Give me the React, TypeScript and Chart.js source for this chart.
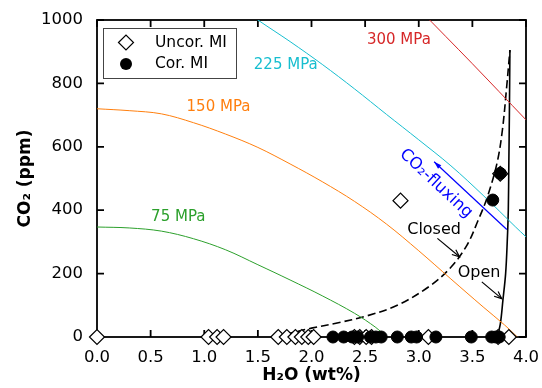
import React, { useEffect, useRef } from "react";
import { Chart, registerables } from "chart.js";

Chart.register(...registerables);

type P = [number, number];

// ---- axis ticks ----
const X_TICKS = [0, 0.5, 1, 1.5, 2, 2.5, 3, 3.5, 4];
const Y_TICKS = [0, 200, 400, 600, 800, 1000];

// ---- isobars (H2O wt%, CO2 ppm) ----
const isobar75: P[] = [[0, 347], [0.3, 344], [0.6, 334], [0.9, 310], [1.2, 275], [1.5, 228], [1.8, 180], [2.1, 130], [2.4, 75], [2.6, 30], [2.7, 0]];
const isobar150: P[] = [[0, 720], [0.3, 714], [0.6, 704], [0.9, 676], [1.2, 640], [1.5, 598], [1.8, 546], [2.1, 490], [2.4, 428], [2.7, 356], [3.0, 272], [3.3, 183], [3.6, 95], [3.8, 38], [3.92, 0]];
const isobar225: P[] = [[1.4, 1025], [1.5, 1000], [1.8, 932], [2.1, 860], [2.4, 783], [2.7, 702], [3.0, 622], [3.3, 540], [3.6, 447], [3.9, 348], [4.0, 316]];
const isobar300: P[] = [[3.0, 1035], [3.5, 862], [4.0, 685]];

// ---- degassing paths ----
const closedPath: P[] = [[1.65, 2], [1.8, 12], [2.0, 28], [2.25, 45], [2.5, 65], [2.8, 100], [3.1, 160], [3.3, 220], [3.45, 290], [3.55, 365], [3.64, 442], [3.73, 549], [3.78, 653], [3.82, 790], [3.85, 905]];
const openPath: P[] = [[3.73, 0], [3.76, 40], [3.785, 117], [3.81, 200], [3.825, 300], [3.835, 400], [3.84, 550], [3.845, 700], [3.85, 905]];

// ---- melt inclusions ----
const uncorH2O = [0.0, 1.04, 1.12, 1.18, 1.69, 1.77, 1.85, 1.91, 1.97, 2.02, 2.40, 2.45, 2.51, 2.56, 3.09, 3.74, 3.84, 2.83, 3.76];
const uncorCO2 = [0, 0, 0, 0, 0, 0, 0, 0, 0, 0, 0, 0, 0, 0, 0, 0, 0, 430, 515];
const corH2O = [2.20, 2.30, 2.38, 2.43, 2.55, 2.60, 2.65, 2.80, 2.93, 2.98, 3.16, 3.49, 3.68, 3.72, 3.75, 3.69, 3.76];
const corCO2 = [0, 0, 0, 0, 0, 0, 0, 0, 0, 0, 0, 0, 0, 0, 0, 432, 516];

// ---- labels ----
const isobarNames = ["75 MPa", "150 MPa", "225 MPa", "300 MPa"];
const isobarLabelX = [0.758, 1.133, 1.76, 2.815];
const isobarLabelY = [379, 726, 858, 937];
const legendNames = ["Uncor. MI", "Cor. MI"];

const GREEN = "#2ca02c";
const ORANGE = "#ff7f0e";
const CYAN = "#17becf";
const RED = "#d62728";
const BLUE = "#0000ff";
const isobarColors = [GREEN, ORANGE, CYAN, RED];

const FONT = "'DejaVu Sans', sans-serif";

const toXY = (arr: P[]) => arr.map(([x, y]) => ({ x, y }));
const zipXY = (xs: number[], ys: number[]) => xs.map((x, i) => ({ x, y: ys[i] }));

function arrow(ctx: CanvasRenderingContext2D, x1: number, y1: number, x2: number, y2: number, color: string, filled: boolean) {
  ctx.save();
  ctx.strokeStyle = color;
  ctx.fillStyle = color;
  ctx.lineWidth = 1.2;
  ctx.beginPath();
  ctx.moveTo(x1, y1);
  ctx.lineTo(x2, y2);
  ctx.stroke();
  const ang = Math.atan2(y2 - y1, x2 - x1);
  const len = 8;
  const spread = filled ? 0.3 : 0.4;
  const ax = x2 - len * Math.cos(ang - spread);
  const ay = y2 - len * Math.sin(ang - spread);
  const bx = x2 - len * Math.cos(ang + spread);
  const by = y2 - len * Math.sin(ang + spread);
  ctx.beginPath();
  if (filled) {
    ctx.moveTo(x2, y2);
    ctx.lineTo(ax, ay);
    ctx.lineTo(bx, by);
    ctx.closePath();
    ctx.fill();
  } else {
    ctx.moveTo(ax, ay);
    ctx.lineTo(x2, y2);
    ctx.lineTo(bx, by);
    ctx.stroke();
  }
  ctx.restore();
}

const framePlugin = {
  id: "frame",
  beforeDatasetsDraw(chart: any) {
    const { ctx, chartArea: a, scales } = chart;
    ctx.save();
    ctx.strokeStyle = "#000";
    ctx.lineWidth = 1.8;
    ctx.strokeRect(a.left, a.top, a.right - a.left, a.bottom - a.top);
    const L = 7;
    ctx.beginPath();
    for (const v of X_TICKS) {
      const px = scales.x.getPixelForValue(v);
      ctx.moveTo(px, a.bottom);
      ctx.lineTo(px, a.bottom - L);
      ctx.moveTo(px, a.top);
      ctx.lineTo(px, a.top + L);
    }
    for (const v of Y_TICKS) {
      const py = scales.y.getPixelForValue(v);
      ctx.moveTo(a.left, py);
      ctx.lineTo(a.left + L, py);
      ctx.moveTo(a.right, py);
      ctx.lineTo(a.right - L, py);
    }
    ctx.stroke();
    ctx.restore();
  },
};

const annotationPlugin = {
  id: "annotations",
  afterDatasetsDraw(chart: any) {
    const { ctx, scales } = chart;
    const X = (v: number) => scales.x.getPixelForValue(v);
    const Y = (v: number) => scales.y.getPixelForValue(v);
    ctx.save();
    ctx.textAlign = "center";
    ctx.textBaseline = "middle";
    ctx.font = `15px ${FONT}`;
    isobarNames.forEach((t, i) => {
      ctx.fillStyle = isobarColors[i];
      ctx.fillText(t, X(isobarLabelX[i]), Y(isobarLabelY[i]));
    });
    ctx.font = `16px ${FONT}`;
    ctx.fillStyle = "#000";
    ctx.fillText("Closed", X(3.143), Y(337));
    ctx.fillText("Open", X(3.563), Y(201));
    arrow(ctx, X(3.174), Y(311), X(3.38), Y(253), "#000", false);
    arrow(ctx, X(3.588), Y(174), X(3.774), Y(121), "#000", false);
    arrow(ctx, X(3.821), Y(339), X(3.143), Y(553), BLUE, true);
    ctx.save();
    ctx.translate(X(3.16), Y(484));
    ctx.rotate((43 * Math.PI) / 180);
    ctx.fillStyle = BLUE;
    ctx.font = `16.5px ${FONT}`;
    ctx.fillText("CO₂-fluxing", 0, 0);
    ctx.restore();
    ctx.restore();
  },
};

const legendPlugin = {
  id: "boxLegend",
  afterDraw(chart: any) {
    const { ctx, chartArea: a } = chart;
    const left = a.left + 6;
    const top = a.top + 8;
    const w = 133;
    const h = 50;
    ctx.save();
    ctx.fillStyle = "#fff";
    ctx.strokeStyle = "#444";
    ctx.lineWidth = 1;
    ctx.fillRect(left, top, w, h);
    ctx.strokeRect(left + 0.5, top + 0.5, w, h);
    const rows = [top + 14.5, top + 36];
    const mx = left + 23;
    ctx.beginPath();
    const r = 7.5;
    ctx.moveTo(mx - r, rows[0]);
    ctx.lineTo(mx, rows[0] - r);
    ctx.lineTo(mx + r, rows[0]);
    ctx.lineTo(mx, rows[0] + r);
    ctx.closePath();
    ctx.fillStyle = "#fff";
    ctx.fill();
    ctx.strokeStyle = "#000";
    ctx.lineWidth = 1.2;
    ctx.stroke();
    ctx.beginPath();
    ctx.arc(mx, rows[1], 6, 0, Math.PI * 2);
    ctx.fillStyle = "#000";
    ctx.fill();
    ctx.font = `15.5px ${FONT}`;
    ctx.textAlign = "left";
    ctx.textBaseline = "middle";
    ctx.fillStyle = "#000";
    ctx.fillText(legendNames[0], left + 52, rows[0]);
    ctx.fillText(legendNames[1], left + 52, rows[1]);
    ctx.restore();
  },
};

export default function App() {
  const ref = useRef<HTMLCanvasElement>(null);
  useEffect(() => {
    const canvas = ref.current;
    if (!canvas) return;
    const lineDs = (label: string, data: P[], color: string, width: number, dash: number[] = []) => ({
      label,
      data: toXY(data),
      showLine: true,
      borderColor: color,
      backgroundColor: color,
      borderWidth: width,
      borderDash: dash,
      pointRadius: 0,
      tension: 0.35,
      order: 3,
    });
    const chart = new Chart(canvas, {
      type: "scatter",
      data: {
        datasets: [
          {
            label: legendNames[1],
            data: zipXY(corH2O, corCO2),
            pointStyle: "circle",
            pointRadius: 6,
            backgroundColor: "#000",
            borderColor: "#000",
            borderWidth: 1,
            clip: false,
            order: 0,
          },
          {
            label: legendNames[0],
            data: zipXY(uncorH2O, uncorCO2),
            pointStyle: "rectRot",
            pointRadius: 7.5,
            backgroundColor: "#fff",
            borderColor: "#000",
            borderWidth: 1.2,
            clip: false,
            order: 1,
          },
          lineDs("75 MPa", isobar75, GREEN, 1),
          lineDs("150 MPa", isobar150, ORANGE, 1),
          lineDs("225 MPa", isobar225, CYAN, 1),
          lineDs("300 MPa", isobar300, RED, 1),
          lineDs("Closed", closedPath, "#000", 1.6, [8, 4]),
          lineDs("Open", openPath, "#000", 1.6),
        ] as any,
      },
      options: {
        responsive: false,
        animation: false,
        events: [],
        layout: { padding: { top: 20, right: 16, left: 0, bottom: 0 } },
        elements: { line: { capBezierPoints: false } },
        plugins: { legend: { display: false }, tooltip: { enabled: false } },
        scales: {
          x: {
            type: "linear",
            min: 0,
            max: 4,
            afterFit: (s: any) => {
              s.height = 51;
              s.paddingLeft = 0;
              s.paddingRight = 0;
            },
            afterBuildTicks: (s: any) => {
              s.ticks = X_TICKS.map((v) => ({ value: v }));
            },
            ticks: {
              color: "#000",
              padding: 11,
              font: { family: FONT, size: 16.5 },
              callback: (v: any) => Number(v).toFixed(1),
            },
            grid: { display: false, drawTicks: false },
            border: { display: false },
            title: {
              display: true,
              text: "H₂O (wt%)",
              color: "#000",
              font: { family: FONT, size: 17, weight: "bold" },
              padding: { top: 0, bottom: 2 },
            },
          },
          y: {
            type: "linear",
            min: 0,
            max: 1000,
            afterFit: (s: any) => {
              s.width = 97;
              s.paddingTop = 0;
              s.paddingBottom = 0;
            },
            afterBuildTicks: (s: any) => {
              s.ticks = Y_TICKS.map((v) => ({ value: v }));
            },
            ticks: {
              color: "#000",
              padding: 14,
              font: { family: FONT, size: 16.5 },
              callback: (v: any) => String(v),
            },
            grid: { display: false, drawTicks: false },
            border: { display: false },
            title: {
              display: true,
              text: "CO₂ (ppm)",
              color: "#000",
              font: { family: FONT, size: 17, weight: "bold" },
              padding: { top: 15, bottom: 0 },
            },
          },
        },
      },
      plugins: [framePlugin, annotationPlugin, legendPlugin],
    } as any);
    return () => chart.destroy();
  }, []);
  return (
    <div style={{ position: "absolute", left: 0, top: 0, width: 542, height: 388, background: "#fff" }}>
      <canvas ref={ref} width={542} height={388} style={{ display: "block", width: 542, height: 388 }} />
    </div>
  );
}
